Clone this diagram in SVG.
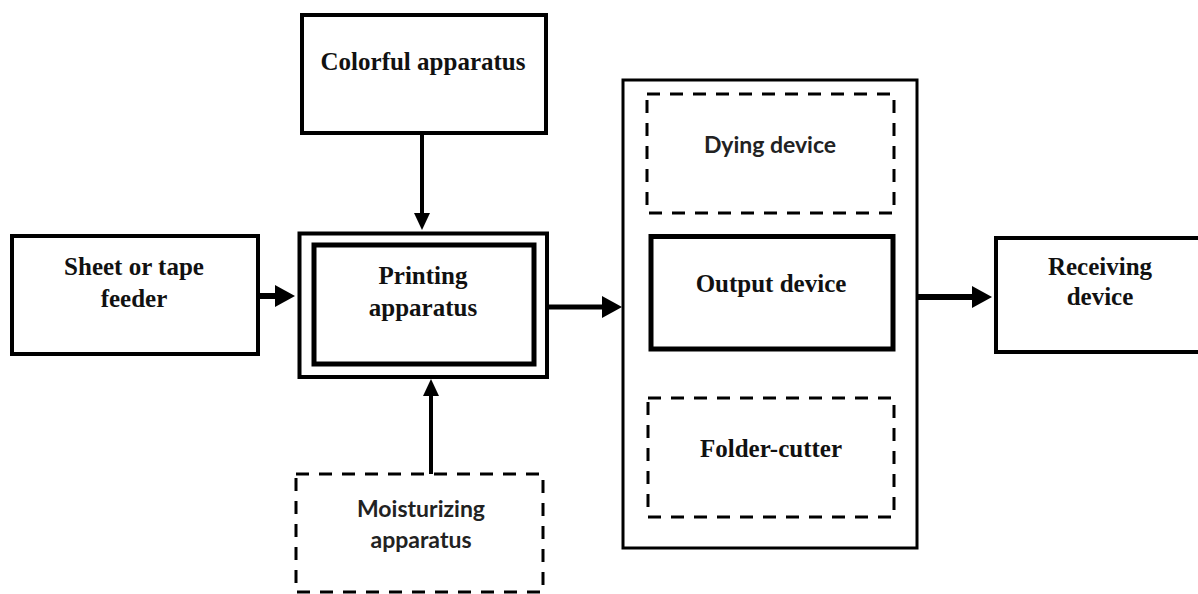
<svg xmlns="http://www.w3.org/2000/svg" width="1198" height="594" viewBox="0 0 1198 594">
<style>
.box{fill:#fff;stroke:#000;stroke-width:4}
.thick{fill:#fff;stroke:#000;stroke-width:5}
.thin{fill:none;stroke:#000;stroke-width:3}
.dash{fill:#fff;stroke:#000;stroke-width:3;stroke-dasharray:13 10}
.serif{font-family:"Liberation Serif","Times New Roman",serif;font-weight:bold;font-size:25px;fill:#111;text-anchor:middle}
.sans{font-family:Lato,"Open Sans",sans-serif;font-weight:bold;font-size:23px;fill:#222;text-anchor:middle}
.conn{fill:none;stroke:#000}
</style>
<defs>
<marker id="big" markerUnits="userSpaceOnUse" markerWidth="20" markerHeight="22" refX="0" refY="11" orient="auto">
<path d="M0,0 L20,11 L0,22 z" fill="#000"/>
</marker>
<marker id="small" markerUnits="userSpaceOnUse" markerWidth="17" markerHeight="16" refX="0" refY="8" orient="auto">
<path d="M0,0 L17,8 L0,16 z" fill="#000"/>
</marker>
</defs>
<rect width="1198" height="594" fill="#fff"/>
<g id="sheet-feeder">
<rect class="box" x="12" y="236" width="246" height="118"/>
<text class="serif" x="134" y="275">Sheet or tape</text>
<text class="serif" x="134" y="307">feeder</text>
</g>
<g id="colorful-apparatus">
<rect class="box" x="302" y="15" width="244" height="118"/>
<text class="serif" x="423" y="70">Colorful apparatus</text>
</g>
<g id="printing-apparatus">
<rect class="box" x="299.5" y="233.5" width="247.5" height="143.5"/>
<rect class="thick" x="314" y="245" width="220" height="119"/>
<text class="serif" x="423" y="284">Printing</text>
<text class="serif" x="423" y="316">apparatus</text>
</g>
<g id="moisturizing-apparatus">
<rect class="dash" x="296" y="474" width="247" height="118"/>
<text class="sans" x="421" y="517">Moisturizing</text>
<text class="sans" x="421" y="548">apparatus</text>
</g>
<g id="output-group">
<rect class="thin" x="623" y="80" width="294" height="468"/>
</g>
<g id="dying-device">
<rect class="dash" x="647" y="94" width="247" height="119"/>
<text class="sans" x="770" y="153">Dying device</text>
</g>
<g id="output-device">
<rect class="thick" x="651" y="236.5" width="242" height="112.5"/>
<text class="serif" x="771" y="292">Output device</text>
</g>
<g id="folder-cutter">
<rect class="dash" x="648" y="398" width="246" height="119"/>
<text class="serif" x="771" y="457">Folder-cutter</text>
</g>
<g id="receiving-device">
<rect class="box" x="996" y="238" width="220" height="114"/>
<text class="serif" x="1100" y="275">Receiving</text>
<text class="serif" x="1100" y="305">device</text>
</g>
<g id="connectors">
<path class="conn" d="M258,296 H275" stroke-width="6" marker-end="url(#big)"/>
<path class="conn" d="M422,135 V213" stroke-width="4" marker-end="url(#small)"/>
<path class="conn" d="M431,474 V396" stroke-width="4" marker-end="url(#small)"/>
<path class="conn" d="M549,307 H602" stroke-width="5" marker-end="url(#big)"/>
<path class="conn" d="M917,297 H972" stroke-width="6" marker-end="url(#big)"/>
</g>
</svg>
